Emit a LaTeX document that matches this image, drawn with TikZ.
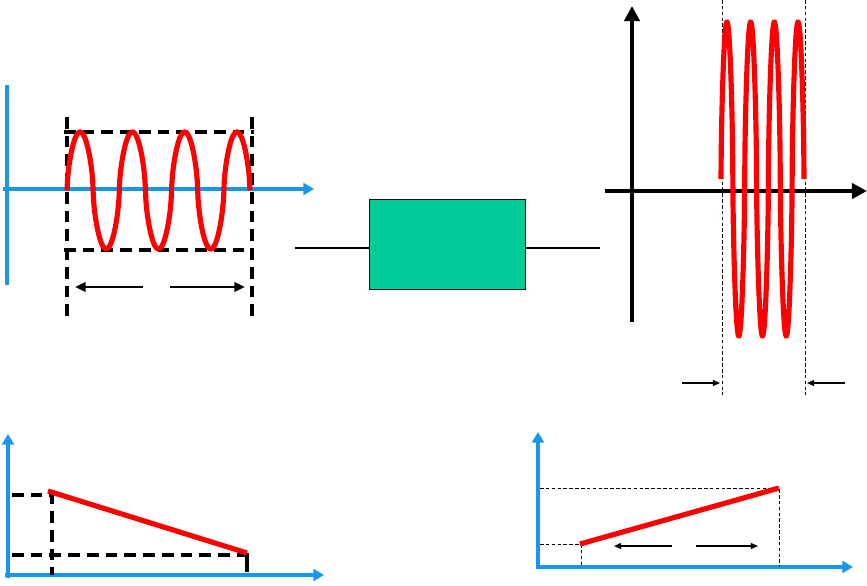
\documentclass[tikz,border=0pt]{standalone}
\usetikzlibrary{arrows.meta,positioning}
\definecolor{axisblue}{RGB}{25,150,240}
\definecolor{boxgreen}{RGB}{0,204,153}
\tikzset{
  baxis/.style={axisblue, line width=3.2pt, -{Triangle[length=9pt,width=10pt]}},
  kaxis/.style={black, line width=3.8pt, -{Triangle[length=13pt,width=13pt]}},
  wave/.style={red, line width=4.4pt},
  thickdash/.style={black, line width=2.8pt, dash pattern=on 10pt off 6pt},
  thindash/.style={black, line width=0.7pt, dash pattern=on 3pt off 2pt},
  span/.style={black, line width=2.2pt, -{Triangle[length=9pt,width=8pt]}},
  thinspan/.style={black, line width=1pt, -{Triangle[length=6pt,width=5pt]}}
}
\begin{document}
\begin{tikzpicture}[x=0.03cm, y=-0.03cm]
\useasboundingbox (0,0) rectangle (867,585);

% input signal
\draw[axisblue, line width=3.2pt] (7,85) -- (7,285);
\draw[baxis] (3,189) -- (314,189);
\draw[thickdash] (64,132) -- (254,132);
\draw[thickdash] (64,250) -- (254,250);
\draw[thickdash] (67,117) -- (67,318);
\draw[thickdash] (252,117) -- (252,318);
\draw[wave, domain=0:1260, samples=300] plot ({67+\x/6.8852}, {190.5-58.5*sin(\x)/pow(abs(sin(\x))+0.001,0.4)});
\draw[span] (143,287) -- (75,287);
\draw[span] (170,287) -- (245,287);

% system block
\node[draw, fill=boxgreen, inner sep=0pt, minimum width=4.68cm, minimum height=2.7cm] (sys) at (447,244) {};
\coordinate (in) at (295,248);
\coordinate (out) at (600,248);
\draw[line width=1.8pt] (in) -- (in -| sys.west);
\draw[line width=1.8pt] (out -| sys.east) -- (out);

% output signal
\draw[kaxis] (632,322) -- (632,6);
\draw[kaxis] (605,191) -- (867,191);
\draw[thindash] (722,0) -- (722,395);
\draw[thindash] (805,0) -- (805,395);
\draw[wave, domain=0:1260, samples=400] plot ({721+\x/15.1807}, {179-157*sin(\x)/pow(abs(sin(\x))+0.001,0.4)});
\draw[thinspan] (682,383) -- (720,383);
\draw[thinspan] (845,383) -- (807,383);

% falling line
\draw[baxis] (8,578) -- (8,434);
\draw[baxis] (5,575) -- (324,575);
\draw[thickdash] (12,495) -- (52,495) -- (52,575);
\draw[thickdash] (12,555) -- (252,555);
\draw[black, line width=2.8pt] (247,553) -- (247,572);
\draw[wave] (48,491) -- (247,553);

% rising line
\draw[baxis] (538,569) -- (538,432);
\draw[baxis] (536,567) -- (853,567);
\draw[thindash] (540,488) -- (779,488) -- (779,567);
\draw[thindash] (540,544) -- (581,544) -- (581,567);
\draw[wave] (580,544) -- (779,488);
\draw[thinspan] (672,546) -- (614,546);
\draw[thinspan] (696,546) -- (758,546);

\end{tikzpicture}
\end{document}
